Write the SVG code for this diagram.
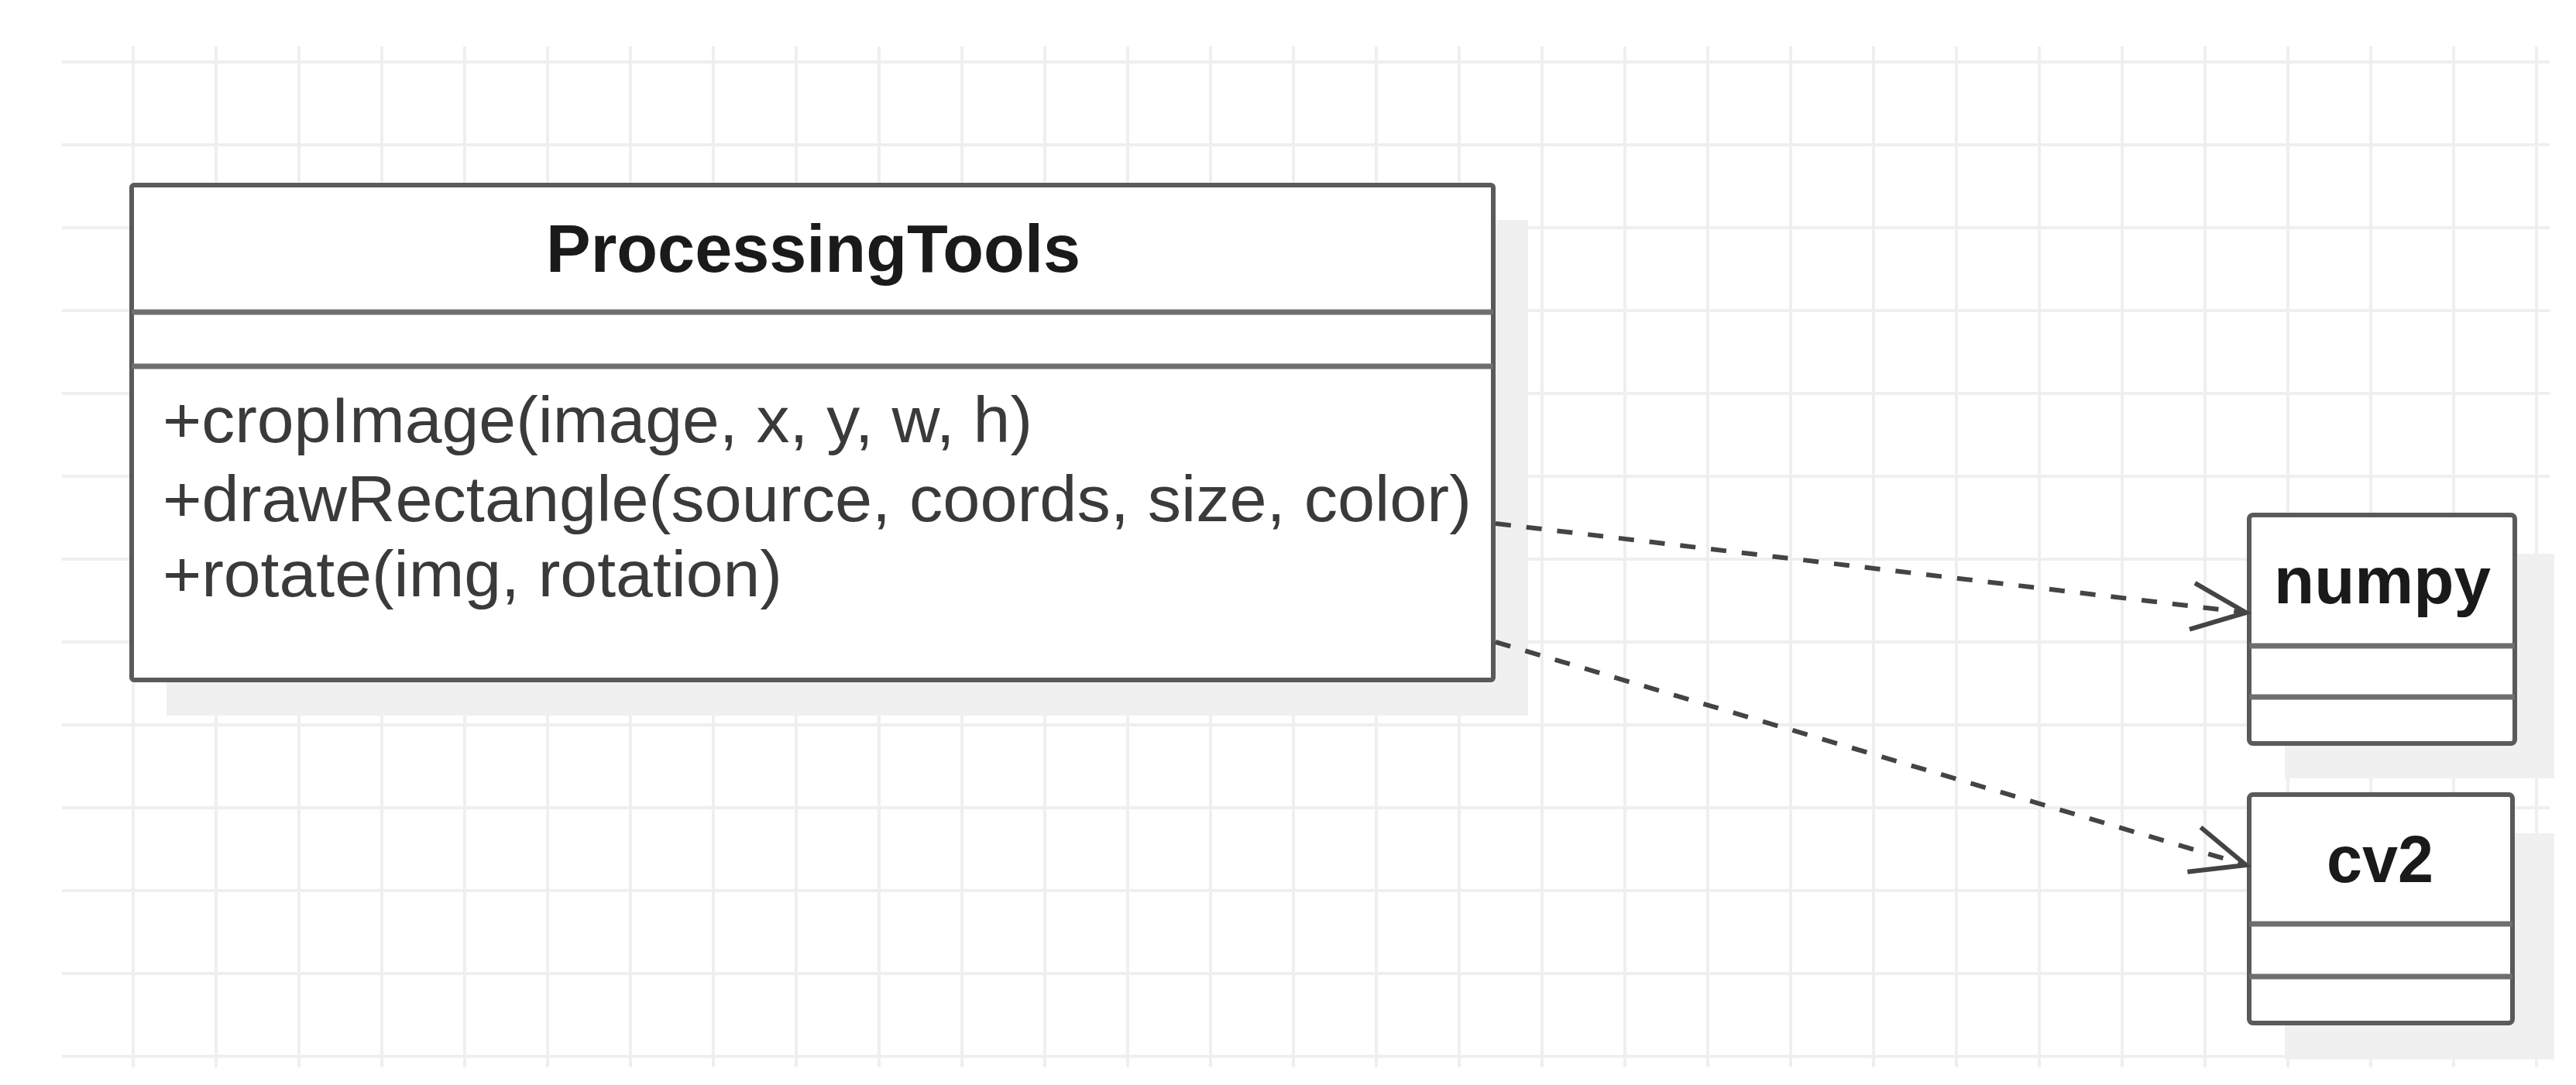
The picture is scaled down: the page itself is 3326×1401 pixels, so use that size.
<svg xmlns="http://www.w3.org/2000/svg" width="3326" height="1401" viewBox="0 0 3326 1401">
<defs>
<style>
.grid line{stroke:#efefef;stroke-width:4}
.box{fill:#ffffff;stroke:#5a5a5a;stroke-width:6}
.div{stroke:#6e6e6e;stroke-width:7}
.shadow{fill:#f0f0f0}
.title{font-family:"Liberation Sans",Arial,sans-serif;font-weight:bold;fill:#1a1a1a}
.meth{font-family:"Liberation Sans",Arial,sans-serif;font-size:84px;fill:#3a3a3a}
.dep{fill:none;stroke:#444;stroke-width:6;stroke-dasharray:20 20}
.head{fill:none;stroke:#444;stroke-width:5}
</style>
<marker id="open" markerUnits="userSpaceOnUse" markerWidth="90" markerHeight="90" refX="72" refY="32" orient="auto" viewBox="0 0 90 64">
<path d="M2,2 L72,32 L2,62" fill="none" stroke="#444" stroke-width="6"/>
</marker>
</defs>
<rect width="3326" height="1401" fill="#ffffff"/>
<g class="grid" id="grid">
<line x1="80" y1="80" x2="3292" y2="80"/>
<line x1="80" y1="187" x2="3292" y2="187"/>
<line x1="80" y1="294" x2="3292" y2="294"/>
<line x1="80" y1="401" x2="3292" y2="401"/>
<line x1="80" y1="508" x2="3292" y2="508"/>
<line x1="80" y1="615" x2="3292" y2="615"/>
<line x1="80" y1="722" x2="3292" y2="722"/>
<line x1="80" y1="829" x2="3292" y2="829"/>
<line x1="80" y1="936" x2="3292" y2="936"/>
<line x1="80" y1="1043" x2="3292" y2="1043"/>
<line x1="80" y1="1150" x2="3292" y2="1150"/>
<line x1="80" y1="1257" x2="3292" y2="1257"/>
<line x1="80" y1="1364" x2="3292" y2="1364"/>
<line x1="172" y1="60" x2="172" y2="1378"/>
<line x1="279" y1="60" x2="279" y2="1378"/>
<line x1="386" y1="60" x2="386" y2="1378"/>
<line x1="493" y1="60" x2="493" y2="1378"/>
<line x1="600" y1="60" x2="600" y2="1378"/>
<line x1="707" y1="60" x2="707" y2="1378"/>
<line x1="814" y1="60" x2="814" y2="1378"/>
<line x1="921" y1="60" x2="921" y2="1378"/>
<line x1="1028" y1="60" x2="1028" y2="1378"/>
<line x1="1135" y1="60" x2="1135" y2="1378"/>
<line x1="1242" y1="60" x2="1242" y2="1378"/>
<line x1="1349" y1="60" x2="1349" y2="1378"/>
<line x1="1456" y1="60" x2="1456" y2="1378"/>
<line x1="1563" y1="60" x2="1563" y2="1378"/>
<line x1="1670" y1="60" x2="1670" y2="1378"/>
<line x1="1777" y1="60" x2="1777" y2="1378"/>
<line x1="1884" y1="60" x2="1884" y2="1378"/>
<line x1="1991" y1="60" x2="1991" y2="1378"/>
<line x1="2098" y1="60" x2="2098" y2="1378"/>
<line x1="2205" y1="60" x2="2205" y2="1378"/>
<line x1="2312" y1="60" x2="2312" y2="1378"/>
<line x1="2419" y1="60" x2="2419" y2="1378"/>
<line x1="2526" y1="60" x2="2526" y2="1378"/>
<line x1="2633" y1="60" x2="2633" y2="1378"/>
<line x1="2740" y1="60" x2="2740" y2="1378"/>
<line x1="2847" y1="60" x2="2847" y2="1378"/>
<line x1="2954" y1="60" x2="2954" y2="1378"/>
<line x1="3061" y1="60" x2="3061" y2="1378"/>
<line x1="3168" y1="60" x2="3168" y2="1378"/>
<line x1="3275" y1="60" x2="3275" y2="1378"/>
</g>
<g id="ProcessingTools">
<rect class="shadow" x="215" y="284" width="1758" height="640"/>
<rect class="box" x="170" y="239" width="1758" height="639" rx="3"/>
<line class="div" x1="170" y1="403" x2="1928" y2="403"/>
<line class="div" x1="170" y1="473" x2="1928" y2="473"/>
<text class="title" x="1050" y="351" font-size="88" text-anchor="middle" textLength="690" lengthAdjust="spacingAndGlyphs">ProcessingTools</text>
<text class="meth" x="210" y="571" textLength="1123" lengthAdjust="spacingAndGlyphs">+cropImage(image, x, y, w, h)</text>
<text class="meth" x="210" y="673" textLength="1690" lengthAdjust="spacingAndGlyphs">+drawRectangle(source, coords, size, color)</text>
<text class="meth" x="210" y="770" textLength="800" lengthAdjust="spacingAndGlyphs">+rotate(img, rotation)</text>
</g>
<g id="numpy">
<rect class="shadow" x="2950" y="715" width="348" height="290"/>
<rect class="box" x="2904" y="665" width="343" height="295" rx="5"/>
<line class="div" x1="2904" y1="834" x2="3247" y2="834"/>
<line class="div" x1="2904" y1="900" x2="3247" y2="900"/>
<text class="title" x="3076" y="779" font-size="86" text-anchor="middle" textLength="280" lengthAdjust="spacingAndGlyphs">numpy</text>
</g>
<g id="cv2">
<rect class="shadow" x="2950" y="1076" width="348" height="292"/>
<rect class="box" x="2904" y="1026" width="340" height="295" rx="5"/>
<line class="div" x1="2904" y1="1193" x2="3244" y2="1193"/>
<line class="div" x1="2904" y1="1261" x2="3244" y2="1261"/>
<text class="title" x="3073" y="1139" font-size="86" text-anchor="middle" textLength="138" lengthAdjust="spacingAndGlyphs">cv2</text>
</g>
<g id="connectors">
<line class="dep" x1="1931" y1="676" x2="2900" y2="791" marker-end="url(#open)"/>
<line class="dep" x1="1931" y1="829" x2="2900" y2="1117" marker-end="url(#open)"/>
</g>
</svg>
